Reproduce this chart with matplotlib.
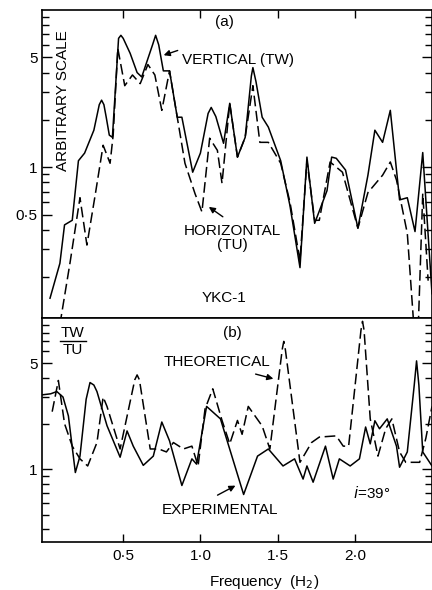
import matplotlib
matplotlib.use("Agg")
import matplotlib.pyplot as plt
from matplotlib.ticker import FixedLocator, LogLocator, NullFormatter, FixedFormatter

plt.rcParams.update({"font.family": ["Liberation Sans", "DejaVu Sans"], "font.size": 11})

# ---- panel (a): spectra, arbitrary scale ------------------------------------
freq_tw = [0.026, 0.09, 0.12, 0.17, 0.21, 0.25, 0.31, 0.345, 0.36, 0.375, 0.39, 0.41, 0.43,
           0.47, 0.485, 0.50, 0.545, 0.59, 0.62, 0.69, 0.71, 0.73, 0.76, 0.80, 0.85, 0.88,
           0.95, 1.00, 1.05, 1.07, 1.10, 1.15, 1.19, 1.24, 1.29, 1.33, 1.34, 1.36, 1.40,
           1.44, 1.52, 1.58, 1.645, 1.69, 1.74, 1.82, 1.85, 1.88, 1.94, 2.02, 2.085, 2.13,
           2.18, 2.23, 2.29, 2.34, 2.39, 2.44, 2.50]
amp_tw = [0.147, 0.245, 0.43, 0.46, 1.1, 1.23, 1.72, 2.5, 2.67, 2.5, 2.08, 1.6, 1.55,
          6.6, 6.9, 6.6, 5.3, 4.0, 3.75, 6.0, 6.9, 6.0, 4.1, 4.1, 2.08, 2.08,
          0.93, 1.23, 2.2, 2.4, 2.1, 1.42, 2.55, 1.16, 1.55, 3.8, 4.3, 3.5, 2.08,
          1.8, 1.1, 0.57, 0.23, 1.16, 0.44, 0.71, 1.16, 1.14, 0.96, 0.41, 0.89, 1.72,
          1.44, 2.3, 0.62, 0.64, 0.39, 1.24, 0.157]

freq_tu = [0.09, 0.155, 0.22, 0.265, 0.32, 0.37, 0.415, 0.435, 0.465, 0.51, 0.56, 0.61,
           0.66, 0.705, 0.75, 0.80, 0.85, 0.90, 0.965, 1.01, 1.06, 1.11, 1.14, 1.19, 1.24,
           1.29, 1.34, 1.385, 1.44, 1.52, 1.58, 1.645, 1.69, 1.74, 1.77, 1.84, 1.92, 2.02,
           2.085, 2.18, 2.23, 2.27, 2.34, 2.385, 2.41, 2.44, 2.475]
amp_tu = [0.10, 0.245, 0.64, 0.32, 0.68, 1.38, 1.06, 1.6, 5.7, 3.3, 3.86, 3.4,
          4.5, 3.86, 2.3, 4.1, 2.08, 1.06, 0.68, 0.52, 1.53, 1.28, 0.79, 2.55, 1.16,
          1.55, 3.3, 1.44, 1.44, 1.06, 0.6, 0.255, 1.1, 0.46, 0.46, 1.08, 0.93, 0.41,
          0.69, 0.89, 1.08, 0.83, 0.38, 0.09, 0.09, 0.68, 0.19]

# ---- panel (b): TW/TU ratio -------------------------------------------------
freq_exp = [-0.026, 0.03, 0.07, 0.11, 0.145, 0.19, 0.22, 0.26, 0.285, 0.31, 0.33, 0.395,
            0.48, 0.525, 0.565, 0.63, 0.695, 0.75, 0.80, 0.88, 0.945, 0.975, 1.04, 1.13,
            1.17, 1.28, 1.37, 1.44, 1.535, 1.61, 1.665, 1.69, 1.73, 1.81, 1.86, 1.90,
            1.97, 2.03, 2.07, 2.10, 2.13, 2.16, 2.21, 2.27, 2.29, 2.34, 2.385, 2.40,
            2.415, 2.44, 2.50]
ratio_exp = [3.1, 3.15, 3.26, 3.0, 2.25, 0.95, 1.22, 2.9, 3.74, 3.6, 3.26, 1.94,
             1.2, 1.79, 1.42, 1.06, 1.22, 2.05, 1.54, 0.78, 1.17, 1.08, 2.6, 2.15,
             1.58, 0.68, 1.22, 1.36, 1.05, 1.17, 0.86, 1.05, 0.82, 1.42, 0.86, 1.17,
             1.05, 1.17, 1.9, 1.47, 2.09, 1.85, 2.15, 1.42, 1.03, 1.3, 3.6, 5.2,
             3.6, 1.3, 1.05]

freq_th = [0.04, 0.08, 0.12, 0.17, 0.22, 0.27, 0.33, 0.37, 0.395, 0.48, 0.575, 0.59,
           0.605, 0.675, 0.73, 0.78, 0.825, 0.89, 0.945, 0.985, 1.03, 1.08, 1.14, 1.19,
           1.24, 1.27, 1.31, 1.40, 1.45, 1.53, 1.54, 1.55, 1.645, 1.72, 1.77, 1.88,
           1.925, 1.96, 2.04, 2.05, 2.06, 2.10, 2.15, 2.20, 2.24, 2.29, 2.33, 2.42,
           2.46, 2.50]
ratio_th = [2.4, 3.86, 2.0, 1.42, 1.17, 1.05, 1.5, 3.0, 2.6, 1.36, 3.9, 4.2,
            3.9, 1.36, 1.36, 1.3, 1.5, 1.36, 1.42, 1.05, 2.5, 3.4, 2.1, 1.47,
            2.1, 1.7, 2.6, 1.93, 1.36, 6.2, 7.0, 6.2, 1.11, 1.5, 1.63, 1.66,
            1.42, 1.42, 8.3, 9.5, 8.3, 2.15, 1.22, 1.85, 2.15, 1.3, 1.11, 1.11,
            1.6, 2.6]

xticks = [0.5, 1.0, 1.5, 2.0]
xticklabels = ["0·5", "1·0", "1·5", "2·0"]

fig = plt.figure(figsize=(4.32, 5.90), dpi=100)
ax_a = fig.add_axes([0.0972, 0.4610, 0.9028, 0.5221])
ax_b = fig.add_axes([0.0972, 0.0814, 0.9028, 0.3797])

DASH = (0, (7, 3))
ax_a.plot(freq_tw, amp_tw, color="black", lw=1.1)
ax_a.plot(freq_tu, amp_tu, color="black", lw=1.1, linestyle=DASH)
ax_b.plot(freq_exp, ratio_exp, color="black", lw=1.1)
ax_b.plot(freq_th, ratio_th, color="black", lw=1.1, linestyle=DASH)

for ax in (ax_a, ax_b):
    ax.set_yscale("log")
    ax.set_xlim(-0.026, 2.5)
    ax.xaxis.set_major_locator(FixedLocator(xticks))
    ax.yaxis.set_minor_locator(LogLocator(base=10, subs=range(2, 10)))
    ax.yaxis.set_minor_formatter(NullFormatter())
    ax.tick_params(axis="both", which="both", direction="in", right=True, width=1.0)
    ax.tick_params(axis="y", which="major", length=7, pad=3)
    ax.tick_params(axis="y", which="minor", length=5)
    ax.tick_params(axis="x", which="major", length=6)
    for s in ax.spines.values():
        s.set_linewidth(1.2)

ax_a.set_ylim(0.11, 10)
ax_a.yaxis.set_major_locator(FixedLocator([0.5, 1, 5]))
ax_a.yaxis.set_major_formatter(FixedFormatter(["0·5", "1", "5"]))
ax_a.tick_params(axis="x", top=True, bottom=False, labelbottom=False)

ax_b.set_ylim(0.33, 10)
ax_b.yaxis.set_major_locator(FixedLocator([1, 5]))
ax_b.yaxis.set_major_formatter(FixedFormatter(["1", "5"]))
ax_b.tick_params(axis="x", top=False, bottom=True, pad=5)
ax_b.set_xticklabels(xticklabels)

# panel (a) labels
ax_a.text(0.469, 0.961, "(a)", transform=ax_a.transAxes, ha="center", va="center")
ax_a.text(0.359, 0.838, "VERTICAL (TW)", transform=ax_a.transAxes, ha="left", va="center")
ax_a.annotate("", xy=(0.745, 5.09), xytext=(0.87, 5.6),
              arrowprops=dict(arrowstyle="-|>", color="black", lw=1.0, mutation_scale=9))
ax_a.text(0.487, 0.260, "HORIZONTAL\n(TU)", transform=ax_a.transAxes, ha="center",
          va="center", linespacing=1.0)
ax_a.annotate("", xy=(1.04, 0.573), xytext=(1.16, 0.473),
              arrowprops=dict(arrowstyle="-|>", color="black", lw=1.0, mutation_scale=9))
ax_a.text(0.467, 0.065, "YKC-1", transform=ax_a.transAxes, ha="center", va="center")
ax_a.text(0.054, 0.705, "ARBITRARY SCALE", transform=ax_a.transAxes, ha="center",
          va="center", rotation=90)

# panel (b) labels
ax_b.text(0.079, 0.935, "TW", transform=ax_b.transAxes, ha="center", va="center")
ax_b.plot([0.045, 0.113], [0.896, 0.896], transform=ax_b.transAxes, color="black", lw=1.0)
ax_b.text(0.079, 0.855, "TU", transform=ax_b.transAxes, ha="center", va="center")
ax_b.text(0.487, 0.933, "(b)", transform=ax_b.transAxes, ha="center", va="center")
ax_b.text(0.449, 0.804, "THEORETICAL", transform=ax_b.transAxes, ha="center", va="center")
ax_b.annotate("", xy=(1.49, 3.92), xytext=(1.34, 4.3),
              arrowprops=dict(arrowstyle="-|>", color="black", lw=1.0, mutation_scale=9))
ax_b.text(0.456, 0.143, "EXPERIMENTAL", transform=ax_b.transAxes, ha="center", va="center")
ax_b.annotate("", xy=(1.243, 0.794), xytext=(1.095, 0.66),
              arrowprops=dict(arrowstyle="-|>", color="black", lw=1.0, mutation_scale=9))
ax_b.text(0.797, 0.219, r"$i$=39°", transform=ax_b.transAxes, ha="left", va="center")

fig.text(0.611, 0.0136, "Frequency  (H$_2$)", ha="center", va="center")

fig.savefig("out.png", dpi=100)
